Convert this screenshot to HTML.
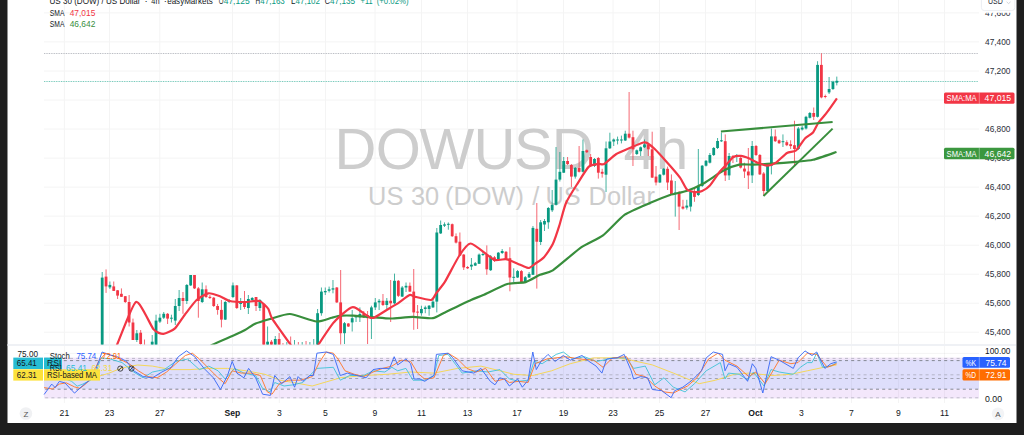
<!DOCTYPE html>
<html><head><meta charset="utf-8"><style>
html,body{margin:0;padding:0;background:#1e1e1e;width:1024px;height:435px;overflow:hidden}
svg{display:block;font-family:"Liberation Sans",sans-serif}
</style></head><body>
<svg width="1024" height="435" viewBox="0 0 1024 435">
<rect x="0" y="0" width="1024" height="435" fill="#1e1e1e"/>
<rect x="7.5" y="0" width="1009" height="423" fill="#ffffff"/>
<g stroke="#f4f4f4" stroke-width="1"><line x1="44" y1="332.2" x2="979" y2="332.2"/><line x1="44" y1="303.2" x2="979" y2="303.2"/><line x1="44" y1="274.2" x2="979" y2="274.2"/><line x1="44" y1="245.2" x2="979" y2="245.2"/><line x1="44" y1="216.1" x2="979" y2="216.1"/><line x1="44" y1="187.1" x2="979" y2="187.1"/><line x1="44" y1="158.1" x2="979" y2="158.1"/><line x1="44" y1="129.0" x2="979" y2="129.0"/><line x1="44" y1="100.0" x2="979" y2="100.0"/><line x1="44" y1="71.0" x2="979" y2="71.0"/><line x1="44" y1="41.9" x2="979" y2="41.9"/><line x1="44" y1="12.9" x2="979" y2="12.9"/><line x1="64.4" y1="0" x2="64.4" y2="344"/><line x1="64.4" y1="398.4" x2="64.4" y2="403"/><line x1="109.5" y1="0" x2="109.5" y2="344"/><line x1="109.5" y1="398.4" x2="109.5" y2="403"/><line x1="159.8" y1="0" x2="159.8" y2="344"/><line x1="159.8" y1="398.4" x2="159.8" y2="403"/><line x1="232.5" y1="0" x2="232.5" y2="344"/><line x1="232.5" y1="398.4" x2="232.5" y2="403"/><line x1="279.3" y1="0" x2="279.3" y2="344"/><line x1="279.3" y1="398.4" x2="279.3" y2="403"/><line x1="325.5" y1="0" x2="325.5" y2="344"/><line x1="325.5" y1="398.4" x2="325.5" y2="403"/><line x1="375" y1="0" x2="375" y2="344"/><line x1="375" y1="398.4" x2="375" y2="403"/><line x1="421.5" y1="0" x2="421.5" y2="344"/><line x1="421.5" y1="398.4" x2="421.5" y2="403"/><line x1="467.5" y1="0" x2="467.5" y2="344"/><line x1="467.5" y1="398.4" x2="467.5" y2="403"/><line x1="517" y1="0" x2="517" y2="344"/><line x1="517" y1="398.4" x2="517" y2="403"/><line x1="563.5" y1="0" x2="563.5" y2="344"/><line x1="563.5" y1="398.4" x2="563.5" y2="403"/><line x1="613" y1="0" x2="613" y2="344"/><line x1="613" y1="398.4" x2="613" y2="403"/><line x1="659.5" y1="0" x2="659.5" y2="344"/><line x1="659.5" y1="398.4" x2="659.5" y2="403"/><line x1="705.5" y1="0" x2="705.5" y2="344"/><line x1="705.5" y1="398.4" x2="705.5" y2="403"/><line x1="755.5" y1="0" x2="755.5" y2="344"/><line x1="755.5" y1="398.4" x2="755.5" y2="403"/><line x1="801.5" y1="0" x2="801.5" y2="344"/><line x1="801.5" y1="398.4" x2="801.5" y2="403"/><line x1="851.5" y1="0" x2="851.5" y2="344"/><line x1="851.5" y1="398.4" x2="851.5" y2="403"/><line x1="898.5" y1="0" x2="898.5" y2="344"/><line x1="898.5" y1="398.4" x2="898.5" y2="403"/><line x1="944.5" y1="0" x2="944.5" y2="344"/><line x1="944.5" y1="398.4" x2="944.5" y2="403"/></g>
<line x1="7.5" y1="345" x2="1016" y2="345" stroke="#eff1f5" stroke-width="2"/>
<line x1="44" y1="353.4" x2="979" y2="353.4" stroke="#f4f4f4" stroke-width="1"/>
<!-- watermark -->
<g fill="#cdcdcd" font-size="58">
<text x="334.6" y="168.6">D</text><text x="375.7" y="168.6">O</text><text x="419.4" y="168.6">W</text><text x="473.6" y="168.6">U</text><text x="514.1" y="168.6">S</text><text x="551.7" y="168.6">D</text><text x="623.5" y="168.6">4</text><text x="655.9" y="168.6">h</text>
</g>
<g fill="#cdcdcd" font-size="25.4">
<text x="368.1" y="204.5">US</text><text x="410.9" y="204.5">30</text><text x="445" y="204.5">(DOW)</text><text x="532.3" y="204.5">/</text><text x="545.4" y="204.5">US</text><text x="588.6" y="204.5">Dollar</text>
</g>
<!-- dotted lines -->
<line x1="44" y1="53.5" x2="978" y2="53.5" stroke="#b4b7be" stroke-width="1" stroke-dasharray="0.9,0.8"/>
<line x1="44" y1="81.5" x2="978" y2="81.5" stroke="#6cc5b5" stroke-width="1" stroke-dasharray="0.9,0.8"/>
<svg x="0" y="0" width="1024" height="344.5" overflow="hidden">
<g><rect x="101.70" y="272.0" width="1" height="88.0" fill="#089981" opacity="0.75"/><rect x="100.80" y="277.6" width="2.8" height="82.4" fill="#089981"/><rect x="105.55" y="269.4" width="1" height="23.5" fill="#f23645" opacity="0.75"/><rect x="104.65" y="276.6" width="2.8" height="9.8" fill="#f23645"/><rect x="109.39" y="281.5" width="1" height="7.5" fill="#089981" opacity="0.75"/><rect x="108.49" y="284.9" width="2.8" height="2.5" fill="#089981"/><rect x="113.24" y="281.5" width="1" height="9.5" fill="#f23645" opacity="0.75"/><rect x="112.34" y="286.4" width="2.8" height="4.5" fill="#f23645"/><rect x="117.08" y="290.0" width="1" height="9.0" fill="#f23645" opacity="0.75"/><rect x="116.18" y="290.3" width="2.8" height="5.3" fill="#f23645"/><rect x="120.93" y="288.4" width="1" height="8.6" fill="#f23645" opacity="0.75"/><rect x="120.03" y="293.8" width="2.8" height="3.0" fill="#f23645"/><rect x="124.78" y="296.0" width="1" height="7.0" fill="#f23645" opacity="0.75"/><rect x="123.88" y="296.2" width="2.8" height="5.8" fill="#f23645"/><rect x="128.62" y="295.0" width="1" height="31.5" fill="#f23645" opacity="0.75"/><rect x="127.72" y="302.0" width="2.8" height="20.5" fill="#f23645"/><rect x="132.47" y="318.6" width="1" height="21.4" fill="#f23645" opacity="0.75"/><rect x="131.57" y="322.5" width="2.8" height="17.5" fill="#f23645"/><rect x="136.31" y="330.0" width="1" height="12.0" fill="#089981" opacity="0.75"/><rect x="135.41" y="333.3" width="2.8" height="6.7" fill="#089981"/><rect x="140.16" y="330.0" width="1" height="17.0" fill="#f23645" opacity="0.75"/><rect x="139.26" y="332.7" width="2.8" height="11.3" fill="#f23645"/><rect x="144.01" y="339.5" width="1" height="15.5" fill="#f23645" opacity="0.75"/><rect x="143.11" y="346.0" width="2.8" height="6.0" fill="#f23645"/><rect x="147.85" y="346.0" width="1" height="14.0" fill="#f23645" opacity="0.75"/><rect x="146.95" y="350.0" width="2.8" height="6.0" fill="#f23645"/><rect x="151.70" y="335.0" width="1" height="17.0" fill="#089981" opacity="0.75"/><rect x="150.80" y="341.7" width="2.8" height="8.3" fill="#089981"/><rect x="155.54" y="314.7" width="1" height="30.3" fill="#089981" opacity="0.75"/><rect x="154.64" y="320.6" width="2.8" height="24.4" fill="#089981"/><rect x="159.39" y="313.8" width="1" height="9.2" fill="#089981" opacity="0.75"/><rect x="158.49" y="317.7" width="2.8" height="3.9" fill="#089981"/><rect x="163.24" y="312.0" width="1" height="7.0" fill="#089981" opacity="0.75"/><rect x="162.34" y="313.8" width="2.8" height="3.9" fill="#089981"/><rect x="167.08" y="313.0" width="1" height="11.0" fill="#f23645" opacity="0.75"/><rect x="166.18" y="313.8" width="2.8" height="4.8" fill="#f23645"/><rect x="170.93" y="314.7" width="1" height="7.8" fill="#089981" opacity="0.75"/><rect x="170.03" y="317.7" width="2.8" height="1.0" fill="#089981"/><rect x="174.77" y="299.0" width="1" height="26.0" fill="#089981" opacity="0.75"/><rect x="173.87" y="306.0" width="2.8" height="14.6" fill="#089981"/><rect x="178.62" y="290.0" width="1" height="21.0" fill="#089981" opacity="0.75"/><rect x="177.72" y="298.0" width="2.8" height="8.0" fill="#089981"/><rect x="182.47" y="292.0" width="1" height="21.8" fill="#f23645" opacity="0.75"/><rect x="181.57" y="298.0" width="2.8" height="3.0" fill="#f23645"/><rect x="186.31" y="284.0" width="1" height="20.0" fill="#089981" opacity="0.75"/><rect x="185.41" y="285.0" width="2.8" height="16.0" fill="#089981"/><rect x="190.16" y="275.0" width="1" height="11.0" fill="#089981" opacity="0.75"/><rect x="189.26" y="275.0" width="2.8" height="10.4" fill="#089981"/><rect x="194.00" y="275.0" width="1" height="14.0" fill="#f23645" opacity="0.75"/><rect x="193.10" y="275.0" width="2.8" height="13.4" fill="#f23645"/><rect x="197.85" y="287.0" width="1" height="30.7" fill="#f23645" opacity="0.75"/><rect x="196.95" y="288.4" width="2.8" height="12.6" fill="#f23645"/><rect x="201.70" y="282.5" width="1" height="20.5" fill="#089981" opacity="0.75"/><rect x="200.80" y="289.3" width="2.8" height="12.7" fill="#089981"/><rect x="205.54" y="285.4" width="1" height="12.6" fill="#f23645" opacity="0.75"/><rect x="204.64" y="289.3" width="2.8" height="7.7" fill="#f23645"/><rect x="209.39" y="295.0" width="1" height="4.0" fill="#f23645" opacity="0.75"/><rect x="208.49" y="296.8" width="2.8" height="1.2" fill="#f23645"/><rect x="213.23" y="297.0" width="1" height="10.0" fill="#f23645" opacity="0.75"/><rect x="212.33" y="297.7" width="2.8" height="8.3" fill="#f23645"/><rect x="217.08" y="304.0" width="1" height="10.7" fill="#f23645" opacity="0.75"/><rect x="216.18" y="306.0" width="2.8" height="3.9" fill="#f23645"/><rect x="220.93" y="300.0" width="1" height="27.4" fill="#f23645" opacity="0.75"/><rect x="220.03" y="309.9" width="2.8" height="9.7" fill="#f23645"/><rect x="224.77" y="301.0" width="1" height="19.0" fill="#089981" opacity="0.75"/><rect x="223.87" y="302.0" width="2.8" height="17.6" fill="#089981"/><rect x="228.62" y="299.0" width="1" height="4.0" fill="#089981" opacity="0.75"/><rect x="227.72" y="300.0" width="2.8" height="2.0" fill="#089981"/><rect x="232.46" y="282.5" width="1" height="15.5" fill="#089981" opacity="0.75"/><rect x="231.56" y="285.4" width="2.8" height="11.6" fill="#089981"/><rect x="236.31" y="285.0" width="1" height="24.0" fill="#f23645" opacity="0.75"/><rect x="235.41" y="285.4" width="2.8" height="22.6" fill="#f23645"/><rect x="240.16" y="298.0" width="1" height="12.0" fill="#089981" opacity="0.75"/><rect x="239.26" y="301.0" width="2.8" height="3.0" fill="#089981"/><rect x="244.00" y="291.0" width="1" height="18.0" fill="#f23645" opacity="0.75"/><rect x="243.10" y="301.0" width="2.8" height="6.0" fill="#f23645"/><rect x="247.85" y="295.0" width="1" height="19.0" fill="#089981" opacity="0.75"/><rect x="246.95" y="299.0" width="2.8" height="9.0" fill="#089981"/><rect x="251.69" y="297.0" width="1" height="4.0" fill="#089981" opacity="0.75"/><rect x="250.79" y="298.0" width="2.8" height="2.0" fill="#089981"/><rect x="255.54" y="297.0" width="1" height="14.0" fill="#f23645" opacity="0.75"/><rect x="254.64" y="297.0" width="2.8" height="9.0" fill="#f23645"/><rect x="259.39" y="299.0" width="1" height="12.0" fill="#089981" opacity="0.75"/><rect x="258.49" y="300.0" width="2.8" height="8.0" fill="#089981"/><rect x="263.23" y="303.0" width="1" height="62.0" fill="#f23645" opacity="0.75"/><rect x="262.33" y="304.0" width="2.8" height="56.0" fill="#f23645"/><rect x="267.08" y="326.5" width="1" height="25.5" fill="#089981" opacity="0.75"/><rect x="266.18" y="341.7" width="2.8" height="8.3" fill="#089981"/><rect x="270.92" y="340.0" width="1" height="12.0" fill="#f23645" opacity="0.75"/><rect x="270.02" y="341.7" width="2.8" height="8.3" fill="#f23645"/><rect x="274.77" y="336.0" width="1" height="16.0" fill="#089981" opacity="0.75"/><rect x="273.87" y="339.0" width="2.8" height="11.0" fill="#089981"/><rect x="278.62" y="333.0" width="1" height="19.0" fill="#f23645" opacity="0.75"/><rect x="277.72" y="339.0" width="2.8" height="11.0" fill="#f23645"/><rect x="282.46" y="343.0" width="1" height="17.0" fill="#f23645" opacity="0.75"/><rect x="281.56" y="350.0" width="2.8" height="5.0" fill="#f23645"/><rect x="286.31" y="342.0" width="1" height="18.0" fill="#089981" opacity="0.75"/><rect x="285.41" y="348.0" width="2.8" height="4.0" fill="#089981"/><rect x="290.15" y="336.5" width="1" height="23.5" fill="#f23645" opacity="0.75"/><rect x="289.25" y="350.0" width="2.8" height="6.0" fill="#f23645"/><rect x="294.00" y="340.0" width="1" height="20.0" fill="#089981" opacity="0.75"/><rect x="293.10" y="348.0" width="2.8" height="4.0" fill="#089981"/><rect x="297.85" y="342.0" width="1" height="18.0" fill="#f23645" opacity="0.75"/><rect x="296.95" y="350.0" width="2.8" height="6.0" fill="#f23645"/><rect x="301.69" y="342.0" width="1" height="18.0" fill="#089981" opacity="0.75"/><rect x="300.79" y="348.0" width="2.8" height="4.0" fill="#089981"/><rect x="305.54" y="341.0" width="1" height="19.0" fill="#f23645" opacity="0.75"/><rect x="304.64" y="350.0" width="2.8" height="6.0" fill="#f23645"/><rect x="309.38" y="342.0" width="1" height="18.0" fill="#089981" opacity="0.75"/><rect x="308.48" y="348.0" width="2.8" height="4.0" fill="#089981"/><rect x="313.23" y="339.0" width="1" height="21.0" fill="#089981" opacity="0.75"/><rect x="312.33" y="348.0" width="2.8" height="4.0" fill="#089981"/><rect x="317.08" y="309.0" width="1" height="43.0" fill="#089981" opacity="0.75"/><rect x="316.18" y="313.2" width="2.8" height="36.8" fill="#089981"/><rect x="320.92" y="287.5" width="1" height="28.2" fill="#089981" opacity="0.75"/><rect x="320.02" y="291.6" width="2.8" height="21.6" fill="#089981"/><rect x="324.77" y="287.5" width="1" height="7.5" fill="#089981" opacity="0.75"/><rect x="323.87" y="291.0" width="2.8" height="1.3" fill="#089981"/><rect x="328.61" y="286.6" width="1" height="5.9" fill="#089981" opacity="0.75"/><rect x="327.71" y="289.3" width="2.8" height="1.5" fill="#089981"/><rect x="332.46" y="280.0" width="1" height="13.3" fill="#089981" opacity="0.75"/><rect x="331.56" y="288.3" width="2.8" height="1.3" fill="#089981"/><rect x="336.31" y="287.0" width="1" height="16.0" fill="#f23645" opacity="0.75"/><rect x="335.41" y="287.5" width="2.8" height="14.9" fill="#f23645"/><rect x="340.15" y="270.0" width="1" height="74.8" fill="#f23645" opacity="0.75"/><rect x="339.25" y="302.4" width="2.8" height="30.8" fill="#f23645"/><rect x="344.00" y="322.0" width="1" height="22.0" fill="#089981" opacity="0.75"/><rect x="343.10" y="323.2" width="2.8" height="10.0" fill="#089981"/><rect x="347.84" y="323.0" width="1" height="4.0" fill="#f23645" opacity="0.75"/><rect x="346.94" y="323.5" width="2.8" height="3.0" fill="#f23645"/><rect x="351.69" y="310.0" width="1" height="21.5" fill="#089981" opacity="0.75"/><rect x="350.79" y="318.2" width="2.8" height="4.2" fill="#089981"/><rect x="355.54" y="315.0" width="1" height="7.0" fill="#089981" opacity="0.75"/><rect x="354.64" y="315.7" width="2.8" height="1.7" fill="#089981"/><rect x="359.38" y="307.4" width="1" height="14.6" fill="#089981" opacity="0.75"/><rect x="358.48" y="314.0" width="2.8" height="3.4" fill="#089981"/><rect x="363.23" y="311.0" width="1" height="7.0" fill="#f23645" opacity="0.75"/><rect x="362.33" y="314.0" width="2.8" height="3.4" fill="#f23645"/><rect x="367.07" y="311.0" width="1" height="33.0" fill="#f23645" opacity="0.75"/><rect x="366.17" y="315.0" width="2.8" height="3.2" fill="#f23645"/><rect x="370.92" y="305.7" width="1" height="33.3" fill="#089981" opacity="0.75"/><rect x="370.02" y="307.4" width="2.8" height="10.8" fill="#089981"/><rect x="374.77" y="298.0" width="1" height="12.0" fill="#089981" opacity="0.75"/><rect x="373.87" y="302.4" width="2.8" height="5.0" fill="#089981"/><rect x="378.61" y="299.0" width="1" height="11.0" fill="#089981" opacity="0.75"/><rect x="377.71" y="300.8" width="2.8" height="1.6" fill="#089981"/><rect x="382.46" y="294.0" width="1" height="12.0" fill="#f23645" opacity="0.75"/><rect x="381.56" y="300.8" width="2.8" height="4.2" fill="#f23645"/><rect x="386.30" y="298.0" width="1" height="12.0" fill="#089981" opacity="0.75"/><rect x="385.40" y="300.8" width="2.8" height="4.2" fill="#089981"/><rect x="390.15" y="280.0" width="1" height="42.0" fill="#f23645" opacity="0.75"/><rect x="389.25" y="300.8" width="2.8" height="2.5" fill="#f23645"/><rect x="394.00" y="273.6" width="1" height="30.4" fill="#089981" opacity="0.75"/><rect x="393.10" y="280.8" width="2.8" height="22.5" fill="#089981"/><rect x="397.84" y="280.0" width="1" height="17.0" fill="#f23645" opacity="0.75"/><rect x="396.94" y="280.8" width="2.8" height="15.0" fill="#f23645"/><rect x="401.69" y="286.0" width="1" height="11.0" fill="#089981" opacity="0.75"/><rect x="400.79" y="287.5" width="2.8" height="9.1" fill="#089981"/><rect x="405.53" y="282.5" width="1" height="9.5" fill="#089981" opacity="0.75"/><rect x="404.63" y="285.8" width="2.8" height="1.7" fill="#089981"/><rect x="409.38" y="282.5" width="1" height="9.5" fill="#f23645" opacity="0.75"/><rect x="408.48" y="285.8" width="2.8" height="5.8" fill="#f23645"/><rect x="413.23" y="269.0" width="1" height="60.8" fill="#f23645" opacity="0.75"/><rect x="412.33" y="291.6" width="2.8" height="20.8" fill="#f23645"/><rect x="417.07" y="305.0" width="1" height="24.0" fill="#f23645" opacity="0.75"/><rect x="416.17" y="311.6" width="2.8" height="1.0" fill="#f23645"/><rect x="420.92" y="305.7" width="1" height="10.0" fill="#089981" opacity="0.75"/><rect x="420.02" y="309.0" width="2.8" height="4.2" fill="#089981"/><rect x="424.76" y="305.7" width="1" height="7.5" fill="#089981" opacity="0.75"/><rect x="423.86" y="307.4" width="2.8" height="1.6" fill="#089981"/><rect x="428.61" y="305.0" width="1" height="10.7" fill="#089981" opacity="0.75"/><rect x="427.71" y="305.7" width="2.8" height="3.3" fill="#089981"/><rect x="432.46" y="298.0" width="1" height="10.0" fill="#089981" opacity="0.75"/><rect x="431.56" y="301.6" width="2.8" height="5.8" fill="#089981"/><rect x="436.30" y="228.0" width="1" height="84.4" fill="#089981" opacity="0.75"/><rect x="435.40" y="232.5" width="2.8" height="69.1" fill="#089981"/><rect x="440.15" y="220.5" width="1" height="13.5" fill="#089981" opacity="0.75"/><rect x="439.25" y="225.0" width="2.8" height="8.4" fill="#089981"/><rect x="443.99" y="222.4" width="1" height="4.6" fill="#089981" opacity="0.75"/><rect x="443.09" y="224.4" width="2.8" height="1.3" fill="#089981"/><rect x="447.84" y="222.4" width="1" height="7.3" fill="#089981" opacity="0.75"/><rect x="446.94" y="223.8" width="2.8" height="1.0" fill="#089981"/><rect x="451.69" y="223.5" width="1" height="13.5" fill="#f23645" opacity="0.75"/><rect x="450.79" y="224.2" width="2.8" height="12.0" fill="#f23645"/><rect x="455.53" y="233.4" width="1" height="10.1" fill="#f23645" opacity="0.75"/><rect x="454.63" y="236.2" width="2.8" height="6.4" fill="#f23645"/><rect x="459.38" y="232.5" width="1" height="23.5" fill="#f23645" opacity="0.75"/><rect x="458.48" y="241.7" width="2.8" height="13.8" fill="#f23645"/><rect x="463.22" y="254.0" width="1" height="16.0" fill="#f23645" opacity="0.75"/><rect x="462.32" y="254.6" width="2.8" height="12.8" fill="#f23645"/><rect x="467.07" y="266.0" width="1" height="3.0" fill="#f23645" opacity="0.75"/><rect x="466.17" y="267.0" width="2.8" height="1.3" fill="#f23645"/><rect x="470.92" y="258.0" width="1" height="12.0" fill="#089981" opacity="0.75"/><rect x="470.02" y="264.7" width="2.8" height="1.8" fill="#089981"/><rect x="474.76" y="262.0" width="1" height="4.0" fill="#089981" opacity="0.75"/><rect x="473.86" y="263.2" width="2.8" height="2.4" fill="#089981"/><rect x="478.61" y="253.5" width="1" height="10.5" fill="#089981" opacity="0.75"/><rect x="477.71" y="254.6" width="2.8" height="9.2" fill="#089981"/><rect x="482.45" y="252.0" width="1" height="4.0" fill="#089981" opacity="0.75"/><rect x="481.55" y="254.0" width="2.8" height="1.0" fill="#089981"/><rect x="486.30" y="245.4" width="1" height="29.4" fill="#f23645" opacity="0.75"/><rect x="485.40" y="254.6" width="2.8" height="14.7" fill="#f23645"/><rect x="490.15" y="255.0" width="1" height="16.0" fill="#089981" opacity="0.75"/><rect x="489.25" y="256.4" width="2.8" height="13.8" fill="#089981"/><rect x="493.99" y="256.0" width="1" height="6.0" fill="#f23645" opacity="0.75"/><rect x="493.09" y="257.3" width="2.8" height="3.7" fill="#f23645"/><rect x="497.84" y="252.0" width="1" height="9.0" fill="#089981" opacity="0.75"/><rect x="496.94" y="252.7" width="2.8" height="7.3" fill="#089981"/><rect x="501.68" y="249.0" width="1" height="5.0" fill="#089981" opacity="0.75"/><rect x="500.78" y="251.0" width="2.8" height="2.0" fill="#089981"/><rect x="505.53" y="251.0" width="1" height="9.0" fill="#f23645" opacity="0.75"/><rect x="504.63" y="251.8" width="2.8" height="7.4" fill="#f23645"/><rect x="509.38" y="247.2" width="1" height="44.1" fill="#f23645" opacity="0.75"/><rect x="508.48" y="258.2" width="2.8" height="19.3" fill="#f23645"/><rect x="513.22" y="268.3" width="1" height="13.7" fill="#089981" opacity="0.75"/><rect x="512.32" y="276.8" width="2.8" height="1.0" fill="#089981"/><rect x="517.07" y="270.0" width="1" height="8.0" fill="#089981" opacity="0.75"/><rect x="516.17" y="271.1" width="2.8" height="6.4" fill="#089981"/><rect x="520.91" y="270.0" width="1" height="13.0" fill="#f23645" opacity="0.75"/><rect x="520.01" y="271.1" width="2.8" height="11.0" fill="#f23645"/><rect x="524.76" y="276.0" width="1" height="7.0" fill="#089981" opacity="0.75"/><rect x="523.86" y="277.2" width="2.8" height="4.9" fill="#089981"/><rect x="528.61" y="272.0" width="1" height="6.0" fill="#089981" opacity="0.75"/><rect x="527.71" y="273.9" width="2.8" height="3.6" fill="#089981"/><rect x="532.45" y="226.0" width="1" height="49.0" fill="#089981" opacity="0.75"/><rect x="531.55" y="227.9" width="2.8" height="46.9" fill="#089981"/><rect x="536.30" y="203.0" width="1" height="85.6" fill="#f23645" opacity="0.75"/><rect x="535.40" y="228.8" width="2.8" height="12.9" fill="#f23645"/><rect x="540.14" y="220.0" width="1" height="25.0" fill="#089981" opacity="0.75"/><rect x="539.24" y="222.3" width="2.8" height="19.7" fill="#089981"/><rect x="543.99" y="219.0" width="1" height="12.0" fill="#089981" opacity="0.75"/><rect x="543.09" y="221.0" width="2.8" height="3.5" fill="#089981"/><rect x="547.84" y="207.0" width="1" height="21.8" fill="#089981" opacity="0.75"/><rect x="546.94" y="208.0" width="2.8" height="14.3" fill="#089981"/><rect x="551.68" y="190.0" width="1" height="22.0" fill="#089981" opacity="0.75"/><rect x="550.78" y="204.8" width="2.8" height="5.5" fill="#089981"/><rect x="555.53" y="147.0" width="1" height="58.5" fill="#089981" opacity="0.75"/><rect x="554.63" y="179.6" width="2.8" height="25.2" fill="#089981"/><rect x="559.37" y="152.0" width="1" height="29.5" fill="#089981" opacity="0.75"/><rect x="558.47" y="171.8" width="2.8" height="7.8" fill="#089981"/><rect x="563.22" y="157.0" width="1" height="16.0" fill="#089981" opacity="0.75"/><rect x="562.32" y="161.0" width="2.8" height="11.7" fill="#089981"/><rect x="567.07" y="157.0" width="1" height="8.0" fill="#f23645" opacity="0.75"/><rect x="566.17" y="161.0" width="2.8" height="3.0" fill="#f23645"/><rect x="570.91" y="164.0" width="1" height="23.0" fill="#f23645" opacity="0.75"/><rect x="570.01" y="165.0" width="2.8" height="11.6" fill="#f23645"/><rect x="574.76" y="167.0" width="1" height="11.6" fill="#089981" opacity="0.75"/><rect x="573.86" y="167.9" width="2.8" height="8.7" fill="#089981"/><rect x="578.60" y="146.0" width="1" height="26.5" fill="#f23645" opacity="0.75"/><rect x="577.70" y="167.9" width="2.8" height="3.9" fill="#f23645"/><rect x="582.45" y="139.5" width="1" height="33.0" fill="#089981" opacity="0.75"/><rect x="581.55" y="151.0" width="2.8" height="20.8" fill="#089981"/><rect x="586.30" y="149.5" width="1" height="3.5" fill="#f23645" opacity="0.75"/><rect x="585.40" y="150.3" width="2.8" height="1.9" fill="#f23645"/><rect x="590.14" y="154.0" width="1" height="13.0" fill="#f23645" opacity="0.75"/><rect x="589.24" y="157.0" width="2.8" height="9.0" fill="#f23645"/><rect x="593.99" y="158.0" width="1" height="9.0" fill="#089981" opacity="0.75"/><rect x="593.09" y="159.0" width="2.8" height="7.0" fill="#089981"/><rect x="597.83" y="157.0" width="1" height="21.6" fill="#f23645" opacity="0.75"/><rect x="596.93" y="158.0" width="2.8" height="14.7" fill="#f23645"/><rect x="601.68" y="168.8" width="1" height="8.8" fill="#f23645" opacity="0.75"/><rect x="600.78" y="171.8" width="2.8" height="1.9" fill="#f23645"/><rect x="605.53" y="141.5" width="1" height="50.5" fill="#089981" opacity="0.75"/><rect x="604.63" y="148.3" width="2.8" height="26.4" fill="#089981"/><rect x="609.37" y="132.7" width="1" height="16.3" fill="#089981" opacity="0.75"/><rect x="608.47" y="141.5" width="2.8" height="6.8" fill="#089981"/><rect x="613.22" y="138.5" width="1" height="7.5" fill="#089981" opacity="0.75"/><rect x="612.32" y="139.5" width="2.8" height="2.0" fill="#089981"/><rect x="617.06" y="136.6" width="1" height="7.8" fill="#089981" opacity="0.75"/><rect x="616.16" y="139.5" width="2.8" height="1.0" fill="#089981"/><rect x="620.91" y="135.6" width="1" height="7.8" fill="#089981" opacity="0.75"/><rect x="620.01" y="139.5" width="2.8" height="1.0" fill="#089981"/><rect x="624.76" y="130.7" width="1" height="10.3" fill="#089981" opacity="0.75"/><rect x="623.86" y="133.7" width="2.8" height="6.8" fill="#089981"/><rect x="628.60" y="92.0" width="1" height="46.5" fill="#f23645" opacity="0.75"/><rect x="627.70" y="133.7" width="2.8" height="3.9" fill="#f23645"/><rect x="632.45" y="130.7" width="1" height="35.3" fill="#f23645" opacity="0.75"/><rect x="631.55" y="137.2" width="2.8" height="12.1" fill="#f23645"/><rect x="636.29" y="149.5" width="1" height="5.5" fill="#089981" opacity="0.75"/><rect x="635.39" y="150.3" width="2.8" height="3.7" fill="#089981"/><rect x="640.14" y="146.5" width="1" height="9.5" fill="#089981" opacity="0.75"/><rect x="639.24" y="147.3" width="2.8" height="3.9" fill="#089981"/><rect x="643.99" y="139.5" width="1" height="8.5" fill="#089981" opacity="0.75"/><rect x="643.09" y="144.4" width="2.8" height="2.9" fill="#089981"/><rect x="647.83" y="143.4" width="1" height="12.6" fill="#f23645" opacity="0.75"/><rect x="646.93" y="144.4" width="2.8" height="4.9" fill="#f23645"/><rect x="651.68" y="131.7" width="1" height="46.3" fill="#f23645" opacity="0.75"/><rect x="650.78" y="149.3" width="2.8" height="28.3" fill="#f23645"/><rect x="655.52" y="166.0" width="1" height="19.4" fill="#f23645" opacity="0.75"/><rect x="654.62" y="176.6" width="2.8" height="5.9" fill="#f23645"/><rect x="659.37" y="174.0" width="1" height="9.0" fill="#089981" opacity="0.75"/><rect x="658.47" y="174.7" width="2.8" height="7.8" fill="#089981"/><rect x="663.22" y="168.0" width="1" height="7.5" fill="#089981" opacity="0.75"/><rect x="662.32" y="168.8" width="2.8" height="5.9" fill="#089981"/><rect x="667.06" y="166.6" width="1" height="23.4" fill="#f23645" opacity="0.75"/><rect x="666.16" y="168.8" width="2.8" height="13.7" fill="#f23645"/><rect x="670.91" y="174.4" width="1" height="20.6" fill="#f23645" opacity="0.75"/><rect x="670.01" y="180.5" width="2.8" height="13.5" fill="#f23645"/><rect x="674.75" y="181.0" width="1" height="35.6" fill="#089981" opacity="0.75"/><rect x="673.85" y="192.5" width="2.8" height="1.5" fill="#089981"/><rect x="678.60" y="191.0" width="1" height="39.0" fill="#f23645" opacity="0.75"/><rect x="677.70" y="192.0" width="2.8" height="14.6" fill="#f23645"/><rect x="682.45" y="199.8" width="1" height="9.8" fill="#f23645" opacity="0.75"/><rect x="681.55" y="206.6" width="2.8" height="2.0" fill="#f23645"/><rect x="686.29" y="199.8" width="1" height="9.8" fill="#089981" opacity="0.75"/><rect x="685.39" y="205.6" width="2.8" height="2.0" fill="#089981"/><rect x="690.14" y="191.0" width="1" height="20.5" fill="#089981" opacity="0.75"/><rect x="689.24" y="192.0" width="2.8" height="14.6" fill="#089981"/><rect x="693.98" y="189.0" width="1" height="12.8" fill="#f23645" opacity="0.75"/><rect x="693.08" y="191.0" width="2.8" height="5.9" fill="#f23645"/><rect x="697.83" y="149.0" width="1" height="47.0" fill="#089981" opacity="0.75"/><rect x="696.93" y="186.0" width="2.8" height="9.0" fill="#089981"/><rect x="701.68" y="165.0" width="1" height="22.0" fill="#089981" opacity="0.75"/><rect x="700.78" y="165.7" width="2.8" height="20.3" fill="#089981"/><rect x="705.52" y="160.0" width="1" height="6.5" fill="#089981" opacity="0.75"/><rect x="704.62" y="160.8" width="2.8" height="4.9" fill="#089981"/><rect x="709.37" y="153.0" width="1" height="10.5" fill="#089981" opacity="0.75"/><rect x="708.47" y="155.0" width="2.8" height="7.7" fill="#089981"/><rect x="713.21" y="147.0" width="1" height="9.0" fill="#089981" opacity="0.75"/><rect x="712.31" y="148.0" width="2.8" height="7.0" fill="#089981"/><rect x="717.06" y="138.0" width="1" height="11.0" fill="#089981" opacity="0.75"/><rect x="716.16" y="141.0" width="2.8" height="7.0" fill="#089981"/><rect x="720.91" y="132.5" width="1" height="9.5" fill="#089981" opacity="0.75"/><rect x="720.01" y="140.3" width="2.8" height="1.0" fill="#089981"/><rect x="724.75" y="134.4" width="1" height="46.6" fill="#f23645" opacity="0.75"/><rect x="723.85" y="141.2" width="2.8" height="34.2" fill="#f23645"/><rect x="728.60" y="153.0" width="1" height="27.0" fill="#089981" opacity="0.75"/><rect x="727.70" y="156.0" width="2.8" height="19.4" fill="#089981"/><rect x="732.44" y="155.0" width="1" height="8.0" fill="#f23645" opacity="0.75"/><rect x="731.54" y="156.0" width="2.8" height="2.0" fill="#f23645"/><rect x="736.29" y="154.0" width="1" height="8.0" fill="#089981" opacity="0.75"/><rect x="735.39" y="155.0" width="2.8" height="2.0" fill="#089981"/><rect x="740.14" y="157.0" width="1" height="11.5" fill="#f23645" opacity="0.75"/><rect x="739.24" y="157.9" width="2.8" height="9.7" fill="#f23645"/><rect x="743.98" y="162.7" width="1" height="15.3" fill="#f23645" opacity="0.75"/><rect x="743.08" y="168.6" width="2.8" height="2.9" fill="#f23645"/><rect x="747.83" y="148.0" width="1" height="41.0" fill="#f23645" opacity="0.75"/><rect x="746.93" y="171.5" width="2.8" height="3.9" fill="#f23645"/><rect x="751.67" y="141.0" width="1" height="42.0" fill="#089981" opacity="0.75"/><rect x="750.77" y="146.0" width="2.8" height="29.4" fill="#089981"/><rect x="755.52" y="145.0" width="1" height="11.0" fill="#f23645" opacity="0.75"/><rect x="754.62" y="146.0" width="2.8" height="9.0" fill="#f23645"/><rect x="759.37" y="154.0" width="1" height="21.0" fill="#f23645" opacity="0.75"/><rect x="758.47" y="155.0" width="2.8" height="19.4" fill="#f23645"/><rect x="763.21" y="172.0" width="1" height="24.0" fill="#f23645" opacity="0.75"/><rect x="762.31" y="173.5" width="2.8" height="17.5" fill="#f23645"/><rect x="767.06" y="164.0" width="1" height="28.0" fill="#089981" opacity="0.75"/><rect x="766.16" y="164.7" width="2.8" height="26.3" fill="#089981"/><rect x="770.90" y="128.5" width="1" height="45.9" fill="#089981" opacity="0.75"/><rect x="770.00" y="136.4" width="2.8" height="29.3" fill="#089981"/><rect x="774.75" y="129.5" width="1" height="12.5" fill="#f23645" opacity="0.75"/><rect x="773.85" y="136.4" width="2.8" height="4.8" fill="#f23645"/><rect x="778.60" y="139.5" width="1" height="4.5" fill="#f23645" opacity="0.75"/><rect x="777.70" y="140.3" width="2.8" height="2.9" fill="#f23645"/><rect x="782.44" y="134.4" width="1" height="12.6" fill="#089981" opacity="0.75"/><rect x="781.54" y="141.2" width="2.8" height="1.0" fill="#089981"/><rect x="786.29" y="140.3" width="1" height="5.8" fill="#f23645" opacity="0.75"/><rect x="785.39" y="142.2" width="2.8" height="3.0" fill="#f23645"/><rect x="790.13" y="140.3" width="1" height="8.7" fill="#f23645" opacity="0.75"/><rect x="789.23" y="144.2" width="2.8" height="1.9" fill="#f23645"/><rect x="793.98" y="120.7" width="1" height="45.0" fill="#f23645" opacity="0.75"/><rect x="793.08" y="145.2" width="2.8" height="3.8" fill="#f23645"/><rect x="797.83" y="127.0" width="1" height="23.0" fill="#089981" opacity="0.75"/><rect x="796.93" y="128.5" width="2.8" height="20.5" fill="#089981"/><rect x="801.67" y="125.6" width="1" height="4.9" fill="#089981" opacity="0.75"/><rect x="800.77" y="127.6" width="2.8" height="1.9" fill="#089981"/><rect x="805.52" y="115.8" width="1" height="13.7" fill="#089981" opacity="0.75"/><rect x="804.62" y="116.8" width="2.8" height="11.7" fill="#089981"/><rect x="809.36" y="112.0" width="1" height="6.5" fill="#089981" opacity="0.75"/><rect x="808.46" y="113.0" width="2.8" height="4.8" fill="#089981"/><rect x="813.21" y="107.5" width="1" height="12.5" fill="#f23645" opacity="0.75"/><rect x="812.31" y="113.0" width="2.8" height="3.8" fill="#f23645"/><rect x="817.06" y="61.2" width="1" height="56.3" fill="#089981" opacity="0.75"/><rect x="816.16" y="64.9" width="2.8" height="51.9" fill="#089981"/><rect x="820.90" y="53.3" width="1" height="45.0" fill="#f23645" opacity="0.75"/><rect x="820.00" y="64.9" width="2.8" height="32.5" fill="#f23645"/><rect x="824.75" y="94.6" width="1" height="3.7" fill="#f23645" opacity="0.75"/><rect x="823.85" y="96.0" width="2.8" height="1.0" fill="#f23645"/><rect x="828.59" y="77.0" width="1" height="17.0" fill="#089981" opacity="0.75"/><rect x="827.69" y="89.0" width="2.8" height="3.4" fill="#089981"/><rect x="832.44" y="80.8" width="1" height="9.2" fill="#089981" opacity="0.75"/><rect x="831.54" y="81.8" width="2.8" height="7.2" fill="#089981"/><rect x="836.29" y="76.6" width="1" height="8.8" fill="#089981" opacity="0.75"/><rect x="835.39" y="80.8" width="2.8" height="1.9" fill="#089981"/></g>
<path d="M195.0,356.0 C196.7,354.9 208.3,347.0 212.0,345.0 C215.7,343.0 228.4,337.7 231.7,336.2 C235.0,334.7 242.6,331.3 245.0,330.0 C247.4,328.7 253.0,324.6 255.6,323.5 C258.2,322.4 267.9,319.6 271.3,318.6 C274.7,317.7 285.5,313.7 290.0,314.0 C294.5,314.3 312.3,321.1 316.5,321.5 C320.7,321.9 329.3,318.3 331.8,317.7 C334.3,317.1 339.2,315.9 341.4,315.7 C343.5,315.5 350.0,315.5 353.3,315.7 C356.6,315.9 370.9,317.1 374.7,317.4 C378.5,317.7 387.5,318.6 391.3,318.5 C395.1,318.4 408.8,316.9 412.9,316.9 C417.0,316.9 429.6,318.6 432.8,318.2 C436.0,317.8 441.2,314.2 445.0,312.4 C448.8,310.6 467.2,301.7 471.0,300.0 C474.8,298.3 479.7,296.6 483.3,295.0 C486.9,293.4 503.1,285.3 507.3,284.0 C511.5,282.7 522.4,283.0 525.7,282.1 C529.0,281.2 537.3,276.0 540.0,274.8 C542.7,273.6 548.7,273.0 552.8,270.3 C556.9,267.6 576.1,250.9 581.1,247.4 C586.1,243.9 598.6,238.7 603.0,235.4 C607.4,232.1 620.0,218.0 624.8,214.7 C629.6,211.4 646.5,204.6 651.0,202.6 C655.5,200.6 666.5,196.2 670.0,195.0 C673.5,193.8 683.1,192.2 686.5,191.0 C689.9,189.8 700.3,185.2 704.0,183.2 C707.7,181.1 720.1,172.4 723.6,170.5 C727.1,168.6 736.3,165.2 739.2,164.6 C742.1,164.0 749.6,164.7 752.9,164.6 C756.2,164.5 767.7,164.0 772.0,163.7 C776.3,163.4 791.4,162.2 795.5,161.8 C799.6,161.4 808.9,160.8 813.0,159.8 C817.1,158.8 834.1,152.8 836.5,152.0" fill="none" stroke="#388e3c" stroke-width="2.2" stroke-linejoin="round"/>
<path d="M100.0,380.0 C101.7,376.6 112.9,353.8 116.5,346.0 C120.1,338.2 132.3,303.7 136.0,302.0 C139.7,300.3 150.9,326.2 153.6,329.4 C156.3,332.6 161.3,334.0 163.4,333.9 C165.5,333.8 172.9,330.3 175.0,328.4 C177.1,326.5 182.6,317.5 184.8,314.7 C187.0,311.9 194.2,302.1 196.6,300.0 C198.9,297.9 206.0,293.7 208.3,293.3 C210.6,292.9 217.8,295.4 220.0,296.2 C222.2,297.0 227.3,300.4 229.8,301.0 C232.3,301.6 242.0,302.0 245.0,302.0 C248.0,302.0 257.2,300.3 259.5,301.0 C261.8,301.7 267.0,307.1 268.3,308.9 C269.6,310.7 269.9,315.0 272.2,318.6 C274.4,322.2 288.0,341.1 290.8,345.0 C293.6,348.9 298.1,356.7 300.0,358.0 C301.9,359.3 308.2,359.3 310.0,358.0 C311.8,356.7 315.9,348.5 318.2,345.0 C320.5,341.5 330.8,326.2 333.1,323.2 C335.4,320.2 339.6,316.5 341.4,314.9 C343.2,313.3 349.9,308.1 351.4,307.4 C352.9,306.7 354.6,307.2 356.4,308.2 C358.2,309.2 367.9,316.5 369.7,317.4 C371.5,318.3 372.7,318.3 374.7,317.4 C376.7,316.5 387.3,309.6 389.6,308.2 C391.9,306.8 395.9,304.6 397.9,303.3 C399.9,302.0 407.9,295.7 409.6,295.0 C411.3,294.3 412.4,296.1 414.5,296.6 C416.6,297.1 428.9,300.4 431.1,300.0 C433.3,299.6 435.0,294.8 436.4,293.0 C437.8,291.2 442.7,285.4 445.0,281.7 C447.3,277.9 456.8,259.3 459.4,255.5 C461.9,251.7 467.7,243.6 470.5,243.5 C473.3,243.4 484.6,252.9 487.0,254.6 C489.4,256.2 492.6,259.5 494.4,260.0 C496.2,260.5 503.9,259.2 505.4,259.2 C506.9,259.2 507.4,259.4 509.1,260.0 C510.8,260.6 520.0,264.8 522.0,265.6 C524.0,266.4 527.7,268.2 529.0,268.0 C530.3,267.8 533.5,264.9 535.0,263.8 C536.5,262.7 542.2,259.2 544.0,257.2 C545.8,255.2 551.3,247.2 552.8,244.0 C554.3,240.8 558.0,229.7 559.3,225.6 C560.6,221.5 564.2,207.1 566.0,203.0 C567.8,198.9 574.6,188.1 576.9,184.5 C579.2,180.9 586.5,169.0 588.6,166.9 C590.8,164.8 596.8,164.3 598.4,164.0 C600.0,163.7 602.4,165.0 604.2,164.0 C606.0,163.0 613.3,155.9 616.0,154.2 C618.7,152.5 628.9,148.5 631.6,147.3 C634.3,146.1 641.7,142.9 643.3,142.5 C644.9,142.1 646.0,142.3 647.2,143.0 C648.4,143.7 653.0,147.4 655.0,149.3 C657.0,151.2 664.2,159.2 666.7,162.0 C669.2,164.8 678.0,174.9 680.0,177.6 C682.0,180.3 685.1,187.6 686.5,189.0 C687.9,190.4 692.7,191.8 694.3,192.0 C695.9,192.2 700.5,191.7 702.1,191.0 C703.7,190.3 708.2,187.4 709.9,185.5 C711.6,183.6 717.9,174.0 719.5,172.0 C721.1,170.0 724.1,167.1 725.5,165.6 C726.9,164.1 731.9,158.0 733.4,157.0 C734.9,156.0 739.5,155.8 741.0,155.9 C742.5,156.0 747.1,157.6 748.8,158.3 C750.4,159.0 755.6,162.0 757.5,162.7 C759.4,163.4 765.6,165.7 767.5,165.7 C769.4,165.7 774.0,164.0 776.0,162.7 C778.0,161.4 785.0,154.2 787.0,153.0 C789.0,151.8 794.2,152.0 796.0,150.5 C797.8,149.0 803.5,140.1 805.2,138.3 C806.9,136.5 811.7,134.1 813.0,132.5 C814.3,130.9 817.2,124.4 818.5,122.5 C819.8,120.6 824.0,116.3 825.8,113.9 C827.6,111.5 835.8,99.9 836.9,98.3" fill="none" stroke="#f23645" stroke-width="2.2" stroke-linejoin="round"/>
<line x1="720.9" y1="131.5" x2="832.6" y2="122.1" stroke="#388e3c" stroke-width="2"/>
<line x1="763.5" y1="196" x2="832.6" y2="128.6" stroke="#388e3c" stroke-width="2"/>
</svg>
<!-- indicator pane -->
<rect x="44" y="357.6" width="935" height="40.8" fill="#f3e7fb"/>
<rect x="44" y="359.8" width="935" height="29.2" fill="#dedefb"/>
<g stroke="#000" stroke-opacity="0.035" stroke-width="1"><line x1="64.4" y1="346" x2="64.4" y2="398.4"/><line x1="109.5" y1="346" x2="109.5" y2="398.4"/><line x1="159.8" y1="346" x2="159.8" y2="398.4"/><line x1="232.5" y1="346" x2="232.5" y2="398.4"/><line x1="279.3" y1="346" x2="279.3" y2="398.4"/><line x1="325.5" y1="346" x2="325.5" y2="398.4"/><line x1="375" y1="346" x2="375" y2="398.4"/><line x1="421.5" y1="346" x2="421.5" y2="398.4"/><line x1="467.5" y1="346" x2="467.5" y2="398.4"/><line x1="517" y1="346" x2="517" y2="398.4"/><line x1="563.5" y1="346" x2="563.5" y2="398.4"/><line x1="613" y1="346" x2="613" y2="398.4"/><line x1="659.5" y1="346" x2="659.5" y2="398.4"/><line x1="705.5" y1="346" x2="705.5" y2="398.4"/><line x1="755.5" y1="346" x2="755.5" y2="398.4"/><line x1="801.5" y1="346" x2="801.5" y2="398.4"/><line x1="851.5" y1="346" x2="851.5" y2="398.4"/><line x1="898.5" y1="346" x2="898.5" y2="398.4"/><line x1="944.5" y1="346" x2="944.5" y2="398.4"/></g>
<g stroke="#858893" stroke-width="1" stroke-dasharray="3,3.2" stroke-dashoffset="-1.2">
<line x1="44" y1="360.6" x2="979" y2="360.6"/>
<line x1="44" y1="389.2" x2="979" y2="389.2"/>
</g>
<g stroke="#8e909b" stroke-width="1" stroke-dasharray="3,3.2" stroke-dashoffset="-1.2" opacity="0.75">
<line x1="44" y1="378.5" x2="979" y2="378.5"/>
</g>
<g stroke="#9a9ca8" stroke-width="1" stroke-dasharray="3,3.2" stroke-dashoffset="-1.2" opacity="0.6">
<line x1="44" y1="358.4" x2="979" y2="358.4"/>
<line x1="44" y1="374.8" x2="979" y2="374.8"/>
<line x1="44" y1="397.8" x2="979" y2="397.8"/>
</g>
<polyline points="88.0,380.0 98.6,376.3 108.4,373.4 118.0,369.5 128.0,366.5 137.7,365.0 152.5,366.1 171.2,369.6 190.0,369.6 208.7,368.4 227.5,368.4 246.2,370.8 265.0,374.3 280.0,380.2 293.4,382.5 312.2,386.0 340.3,377.8 363.7,375.5 387.2,374.3 410.6,372.0 434.0,373.1 457.5,368.4 480.9,366.1 500.0,370.8 514.0,374.3 532.8,375.5 551.6,370.8 570.3,363.7 593.7,357.9 617.2,357.9 631.2,360.2 652.3,364.9 673.4,373.1 699.2,383.7 715.6,380.2 734.4,374.3 748.7,373.1 772.2,375.5 790.9,374.3 807.3,370.8 823.8,367.3 836.6,364.9" fill="none" stroke="#f5d75a" stroke-width="1"/>
<polyline points="44.1,376.0 66.0,379.0 71.7,381.4 77.2,386.2 82.8,384.1 89.7,380.7 93.9,377.8 101.0,357.9 110.3,359.0 122.0,362.6 133.7,372.0 143.1,377.8 152.5,372.0 164.2,369.6 175.9,361.4 187.6,359.0 199.4,369.6 208.7,366.1 218.1,370.8 225.1,379.0 234.5,368.4 243.9,373.1 255.6,375.5 262.6,388.4 270.0,391.9 274.7,382.5 284.1,386.0 293.4,384.8 302.8,382.5 316.9,368.4 333.3,367.3 340.3,380.2 349.7,375.5 363.7,375.5 373.1,370.8 384.8,372.0 391.9,367.3 397.7,370.8 405.9,368.4 413.0,380.2 424.7,380.2 434.0,375.5 438.7,355.5 448.1,354.4 462.2,373.1 476.2,370.8 488.0,372.0 500.0,369.6 509.4,379.0 518.7,381.3 528.1,380.2 534.0,361.4 542.2,363.7 556.2,354.4 563.3,352.0 572.6,359.0 584.4,356.7 596.1,361.4 603.1,360.2 612.5,357.9 626.6,357.9 633.6,368.4 645.3,366.1 654.7,384.8 664.0,377.8 673.4,387.2 685.1,391.9 694.5,383.7 706.2,370.8 720.3,362.6 725.0,379.0 728.5,373.1 739.4,374.3 747.6,380.2 753.4,372.0 764.0,386.0 771.0,369.6 779.2,372.0 793.3,374.3 800.3,367.3 807.3,362.6 812.0,362.6 816.7,353.2 822.6,367.3 830.8,366.1 836.6,362.6" fill="none" stroke="#3ec3d6" stroke-width="0.9"/>
<polyline points="44.1,387.6 52.4,389.0 59.3,384.1 66.2,382.8 74.5,386.9 80.0,388.3 85.5,384.1 89.7,380.0 98.6,361.4 105.6,353.2 117.3,357.9 129.0,363.7 138.4,370.8 147.8,376.6 157.2,377.8 166.6,372.0 175.9,363.7 185.3,355.5 192.3,353.2 199.4,359.0 208.7,368.4 218.1,377.8 225.1,383.7 232.2,370.8 241.5,373.1 250.9,373.1 260.3,375.5 267.3,391.9 272.0,394.2 279.4,383.7 288.7,380.2 300.5,380.2 312.2,376.6 319.2,362.6 326.2,352.0 333.3,353.2 338.0,359.0 345.0,370.8 354.4,374.3 363.7,376.6 373.1,372.0 382.5,368.4 391.9,366.1 401.2,360.2 410.6,361.4 417.6,373.1 424.7,379.0 434.0,377.8 443.4,355.5 448.1,353.2 457.5,359.0 466.9,368.4 476.2,372.0 485.6,368.4 495.0,381.3 504.4,379.0 509.4,382.5 518.7,381.3 528.1,382.5 535.2,363.7 546.9,359.0 565.6,356.7 579.7,359.0 593.7,360.2 603.1,367.3 612.5,357.9 626.6,356.7 635.9,374.3 645.3,376.6 654.7,386.0 664.0,391.9 673.4,393.0 687.5,386.0 696.9,377.8 708.6,359.0 718.0,353.2 725.0,360.2 737.0,366.1 748.7,376.6 755.8,372.0 765.2,383.7 772.2,372.0 779.2,360.2 790.9,363.7 798.0,362.6 807.3,353.2 816.7,354.4 827.3,367.3 836.6,363.7" fill="none" stroke="#ff7a2f" stroke-width="0.95"/>
<polyline points="44.1,394.5 51.7,384.1 55.2,387.6 59.3,381.4 64.8,382.8 74.5,393.1 82.8,385.5 89.7,380.0 96.2,368.4 102.1,352.0 108.0,354.4 117.3,356.7 126.7,361.4 133.7,370.8 143.1,376.6 152.5,377.8 161.9,372.0 171.2,367.3 178.3,356.7 186.5,350.9 194.7,356.7 204.0,368.4 213.4,377.8 220.5,389.5 227.5,375.5 232.2,361.4 236.9,373.1 243.9,377.8 248.6,368.4 255.6,377.8 262.6,394.2 270.4,395.4 274.7,375.5 281.7,383.7 289.9,376.6 294.6,387.2 298.1,376.6 302.8,381.3 309.8,375.5 313.4,375.5 316.9,353.2 326.2,352.0 333.3,354.4 340.3,375.5 347.3,373.1 356.7,375.5 366.1,377.8 373.1,369.6 380.1,368.4 389.5,368.4 394.2,356.7 397.7,364.9 405.9,359.0 410.6,363.7 414.1,379.0 420.0,379.0 424.7,381.3 434.0,375.5 436.4,354.4 448.1,353.2 452.8,357.9 462.2,370.8 473.9,373.1 480.9,368.4 490.3,381.3 495.0,384.8 499.7,377.8 504.4,379.0 509.4,386.0 517.6,379.0 522.3,387.2 528.1,380.2 532.8,352.0 536.3,369.6 541.0,361.4 548.0,354.4 555.1,361.4 563.3,355.5 570.3,360.2 582.0,355.5 589.0,361.4 596.1,366.1 601.9,373.1 606.6,359.0 617.2,357.9 624.2,354.4 631.2,370.8 633.6,379.0 640.6,376.6 647.6,377.8 652.3,389.5 661.7,390.7 671.1,397.7 674.6,390.7 682.8,387.2 692.2,380.2 701.5,370.8 706.2,357.9 713.3,352.0 722.6,354.4 725.0,370.8 728.5,363.7 737.0,367.3 747.6,381.3 752.3,363.7 755.8,368.4 762.8,393.0 771.0,356.7 779.2,360.2 793.3,368.4 798.0,357.9 805.0,350.9 812.0,355.5 816.7,352.0 824.9,368.4 830.8,363.7 836.6,361.9" fill="none" stroke="#3d6bf5" stroke-width="0.95"/>
<!-- legend -->
<g font-size="9.5" fill="#131722">
<text x="49.8" y="15.6" textLength="14.6" lengthAdjust="spacingAndGlyphs">SMA</text>
<text x="69.7" y="15.6" fill="#f23645" textLength="25.6" lengthAdjust="spacingAndGlyphs">47,015</text>
<text x="49.8" y="27.3" textLength="14.6" lengthAdjust="spacingAndGlyphs">SMA</text>
<text x="69.7" y="27.3" fill="#388e3c" textLength="25.6" lengthAdjust="spacingAndGlyphs">46,642</text>
<text x="49.5" y="3.6" textLength="91" lengthAdjust="spacingAndGlyphs">US 30 (DOW) / US Dollar</text>
<text x="144.6" y="3.6">·</text>
<text x="151.3" y="3.6" textLength="8.2" lengthAdjust="spacingAndGlyphs">4h</text>
<text x="163.7" y="3.6">·</text>
<text x="167.2" y="3.6" textLength="45.5" lengthAdjust="spacingAndGlyphs">easyMarkets</text>
<text x="218.8" y="3.6" textLength="4.8" lengthAdjust="spacingAndGlyphs">O</text>
<text x="223.7" y="3.6" fill="#089981" textLength="25.9" lengthAdjust="spacingAndGlyphs">47,125</text>
<text x="255.4" y="3.6" textLength="4.6" lengthAdjust="spacingAndGlyphs">H</text>
<text x="260.3" y="3.6" fill="#089981" textLength="24.5" lengthAdjust="spacingAndGlyphs">47,163</text>
<text x="291" y="3.6" textLength="4.4" lengthAdjust="spacingAndGlyphs">L</text>
<text x="295.6" y="3.6" fill="#089981" textLength="24.4" lengthAdjust="spacingAndGlyphs">47,102</text>
<text x="324.7" y="3.6" textLength="5.2" lengthAdjust="spacingAndGlyphs">C</text>
<text x="330" y="3.6" fill="#089981" textLength="25.2" lengthAdjust="spacingAndGlyphs">47,135</text>
<text x="360.6" y="3.6" fill="#089981" textLength="12" lengthAdjust="spacingAndGlyphs">+11</text>
<text x="376.7" y="3.6" fill="#089981" textLength="31.8" lengthAdjust="spacingAndGlyphs">(+0.02%)</text>
</g>
<!-- price scale -->
<g font-size="9.6" fill="#2a2e39"><text x="1010.5" y="335.4" text-anchor="end" textLength="25.5" lengthAdjust="spacingAndGlyphs">45,400</text><text x="1010.5" y="306.4" text-anchor="end" textLength="25.5" lengthAdjust="spacingAndGlyphs">45,600</text><text x="1010.5" y="277.4" text-anchor="end" textLength="25.5" lengthAdjust="spacingAndGlyphs">45,800</text><text x="1010.5" y="248.3" text-anchor="end" textLength="25.5" lengthAdjust="spacingAndGlyphs">46,000</text><text x="1010.5" y="219.3" text-anchor="end" textLength="25.5" lengthAdjust="spacingAndGlyphs">46,200</text><text x="1010.5" y="190.3" text-anchor="end" textLength="25.5" lengthAdjust="spacingAndGlyphs">46,400</text><text x="1010.5" y="161.3" text-anchor="end" textLength="25.5" lengthAdjust="spacingAndGlyphs">46,600</text><text x="1010.5" y="132.2" text-anchor="end" textLength="25.5" lengthAdjust="spacingAndGlyphs">46,800</text><text x="1010.5" y="74.2" text-anchor="end" textLength="25.5" lengthAdjust="spacingAndGlyphs">47,200</text><text x="1010.5" y="45.1" text-anchor="end" textLength="25.5" lengthAdjust="spacingAndGlyphs">47,400</text><text x="1010.5" y="16.1" text-anchor="end" textLength="25.5" lengthAdjust="spacingAndGlyphs">47,600</text></g>
<rect x="979" y="0" width="37" height="12.8" fill="#ffffff"/>
<rect x="981.4" y="-5" width="33.4" height="15.6" rx="3" fill="#ffffff" stroke="#e6e8ee" stroke-width="0.8"/>
<text x="988" y="4" font-size="9" fill="#2a2e39" textLength="14.8" lengthAdjust="spacingAndGlyphs">USD</text>
<path d="M1006.6,1.8 L1008.6,3.6 L1010.6,1.8" fill="none" stroke="#c8cad0" stroke-width="0.8"/>
<!-- SMA labels -->
<rect x="944" y="92.4" width="70.5" height="11.4" rx="1.5" fill="#f23645"/>
<line x1="979.3" y1="92.4" x2="979.3" y2="103.8" stroke="#fff" stroke-opacity="0.45" stroke-width="0.8"/>
<text x="946.6" y="101.2" font-size="8.8" fill="#fff" textLength="30" lengthAdjust="spacingAndGlyphs">SMA:MA</text>
<text x="1011.2" y="101.2" font-size="8.8" fill="#fff" text-anchor="end" textLength="26.6" lengthAdjust="spacingAndGlyphs">47,015</text>
<rect x="944" y="147.8" width="70.5" height="11.4" rx="1.5" fill="#3b973f"/>
<line x1="979.3" y1="147.8" x2="979.3" y2="159.2" stroke="#fff" stroke-opacity="0.45" stroke-width="0.8"/>
<text x="946.6" y="156.6" font-size="8.8" fill="#fff" textLength="30" lengthAdjust="spacingAndGlyphs">SMA:MA</text>
<text x="1011.2" y="156.6" font-size="8.8" fill="#fff" text-anchor="end" textLength="26.6" lengthAdjust="spacingAndGlyphs">46,642</text>
<!-- indicator right labels -->
<text x="1010.5" y="354" font-size="8.6" fill="#131722" text-anchor="end" textLength="25.4" lengthAdjust="spacingAndGlyphs">100.00</text>
<text x="1002" y="402" font-size="8.6" fill="#131722" text-anchor="end" textLength="17" lengthAdjust="spacingAndGlyphs">0.00</text>
<rect x="962.5" y="357" width="47.5" height="10.7" rx="1.5" fill="#2962ff"/>
<line x1="979.3" y1="357" x2="979.3" y2="367.7" stroke="#fff" stroke-opacity="0.45" stroke-width="0.8"/>
<text x="965.4" y="365.6" font-size="9.2" fill="#fff" textLength="10.7" lengthAdjust="spacingAndGlyphs">%K</text>
<text x="1006.5" y="365.6" font-size="9.2" fill="#fff" text-anchor="end" textLength="21" lengthAdjust="spacingAndGlyphs">75.74</text>
<rect x="962.5" y="369.3" width="47.5" height="11.3" rx="1.5" fill="#ff6d00"/>
<line x1="979.3" y1="369.3" x2="979.3" y2="380.6" stroke="#fff" stroke-opacity="0.45" stroke-width="0.8"/>
<text x="965.4" y="378.2" font-size="9.2" fill="#fff" textLength="10.7" lengthAdjust="spacingAndGlyphs">%D</text>
<text x="1006.5" y="378.2" font-size="9.2" fill="#fff" text-anchor="end" textLength="21" lengthAdjust="spacingAndGlyphs">72.91</text>
<!-- indicator left labels -->
<text x="38" y="357" font-size="8.6" fill="#131722" text-anchor="end" textLength="20.5" lengthAdjust="spacingAndGlyphs">75.00</text>
<rect x="13.3" y="357.6" width="29.7" height="11.4" fill="#26bcd3"/>
<text x="36.8" y="366.3" font-size="9" fill="#131722" text-anchor="end" textLength="20" lengthAdjust="spacingAndGlyphs">65.41</text>
<rect x="44" y="357.6" width="18" height="11.4" fill="#26bcd3"/>
<text x="47" y="366.3" font-size="8.6" fill="#131722">RSI</text>
<rect x="13.3" y="369.3" width="29.7" height="11.3" fill="#fde23b"/>
<text x="36.8" y="378" font-size="9" fill="#131722" text-anchor="end" textLength="20" lengthAdjust="spacingAndGlyphs">62.31</text>
<rect x="44" y="369.3" width="56" height="11.3" fill="#fde23b"/>
<text x="47" y="378" font-size="8.6" fill="#131722" textLength="50" lengthAdjust="spacingAndGlyphs">RSI-based MA</text>
<g font-size="9">
<text x="49.8" y="359" fill="#131722" textLength="20" lengthAdjust="spacingAndGlyphs">Stoch</text>
<text x="76.4" y="359" fill="#2962ff" textLength="19.8" lengthAdjust="spacingAndGlyphs">75.74</text>
<text x="102.3" y="359" fill="#ff6d00" textLength="18.8" lengthAdjust="spacingAndGlyphs">72.91</text>
<text x="49.8" y="371" fill="#131722" textLength="12" lengthAdjust="spacingAndGlyphs">RSI</text>
<text x="66" y="371" fill="#26bcd3" textLength="21" lengthAdjust="spacingAndGlyphs">65.41</text>
<text x="91.6" y="371" fill="#f7dc45" textLength="20.7" lengthAdjust="spacingAndGlyphs">62.31</text>
</g>
<circle cx="120.3" cy="368.6" r="2.6" fill="none" stroke="#333" stroke-width="0.9"/>
<line x1="118.5" y1="370.5" x2="122.1" y2="366.7" stroke="#333" stroke-width="0.9"/>
<circle cx="131.5" cy="368.6" r="2.6" fill="none" stroke="#333" stroke-width="0.9"/>
<line x1="129.7" y1="370.5" x2="133.3" y2="366.7" stroke="#333" stroke-width="0.9"/>
<!-- time axis -->
<g font-size="8.6" fill="#131722"><text x="64.4" y="416.1" text-anchor="middle">21</text><text x="109.5" y="416.1" text-anchor="middle">23</text><text x="159.8" y="416.1" text-anchor="middle">27</text><text x="232.5" y="416.1" text-anchor="middle" font-weight="bold">Sep</text><text x="279.3" y="416.1" text-anchor="middle">3</text><text x="325.5" y="416.1" text-anchor="middle">5</text><text x="375" y="416.1" text-anchor="middle">9</text><text x="421.5" y="416.1" text-anchor="middle">11</text><text x="467.5" y="416.1" text-anchor="middle">13</text><text x="517" y="416.1" text-anchor="middle">17</text><text x="563.5" y="416.1" text-anchor="middle">19</text><text x="613" y="416.1" text-anchor="middle">23</text><text x="659.5" y="416.1" text-anchor="middle">25</text><text x="705.5" y="416.1" text-anchor="middle">27</text><text x="755.5" y="416.1" text-anchor="middle" font-weight="bold">Oct</text><text x="801.5" y="416.1" text-anchor="middle">3</text><text x="851.5" y="416.1" text-anchor="middle">7</text><text x="898.5" y="416.1" text-anchor="middle">9</text><text x="944.5" y="416.1" text-anchor="middle">11</text></g>
<circle cx="25.9" cy="413.5" r="6.3" fill="#f0f1f3"/>
<text x="25.9" y="416.6" font-size="8" fill="#555" text-anchor="middle">Z</text>
<circle cx="998" cy="413.8" r="6.3" fill="#f3f4f6"/>
<text x="998" y="416.8" font-size="8" fill="#555" text-anchor="middle">A</text>
</svg>
</body></html>
